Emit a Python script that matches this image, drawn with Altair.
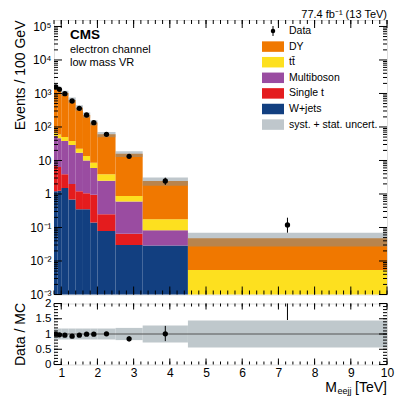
import json
import altair as alt
import numpy as np
import pandas as pd

# ---------------- data ----------------
edges = [0.8, 0.9, 1.0, 1.2, 1.4, 1.6, 1.8, 2.0, 2.5, 3.25, 4.5, 10.0]
proc_names = ["W+jets", "Single t", "Multiboson", "tt\u0304", "DY"]   # bottom -> top
proc_colors = ["#123f80", "#e41c1e", "#9a4ca1", "#fde01f", "#f07800"]
wjets = [1.2, 1.25, 1.5, 0.69, 0.35, 0.35, 0.14, 0.079, 0.030, 0.029, 0.0]
single_t = [5.6, 5.15, 2.4, 1.31, 0.85, 0.70, 0.81, 0.168, 0.035, 0.0, 0.0]
multiboson = [47.2, 39.6, 34.1, 27.0, 15.8, 8.95, 5.05, 2.25, 0.535, 0.054, 0.0]
ttbar = [13.0, 14.0, 12.0, 9.0, 5.5, 3.6, 2.6, 1.4, 0.27, 0.093, 0.0054]
dy = [1501, 1311, 975, 604, 352.5, 215.4, 126.4, 56.3, 14.93, 2.25, 0.0426]
data = [1560, 1334, 986, 597, 361, 228, 134, 60.5, 13.3, 2.44, 0.119]
data_err_lo = [40, 36, 22, 17, 13, 11, 8, 3.5, 1.35, 0.58, 0.049]
data_err_hi = [40, 36, 22, 17, 13, 11, 8, 3.5, 1.35, 0.63, 0.077]
unc_rel = [0.18, 0.18, 0.18, 0.18, 0.18, 0.18, 0.18, 0.18, 0.20, 0.28, 0.44]

y_tick_values = [1e-3, 1e-2, 1e-1, 1, 10, 1e2, 1e3, 1e4, 1e5]
y_tick_labels = ["10\u207b\u00b3", "10\u207b\u00b2", "10\u207b\u00b9", "1", "10",
                 "10\u00b2", "10\u00b3", "10\u2074", "10\u2075"]
x_tick_values = [1, 2, 3, 4, 5, 6, 7, 8, 9, 10]
r_tick_values = [0, 0.5, 1, 1.5, 2]
legend_labels = ["Data", "DY", "tt\u0304", "Multiboson", "Single t", "W+jets",
                 "syst. + stat. uncert."]

# ---------------- layout ----------------
W = 333
H1 = 274.5
H2 = 61
FONT = "Liberation Sans"
BAND = "#7f8f99"

xs = alt.Scale(domain=[0.8, 10], nice=False, zero=False)
ys = alt.Scale(type="log", domain=[1e-3, 1.56e5], nice=False)
rs = alt.Scale(domain=[0, 2], nice=False, zero=False)

# ---------------- tables ----------------
lo_e = np.array(edges[:-1])
hi_e = np.array(edges[1:])
ctr = (lo_e + hi_e) / 2
series = [wjets, single_t, multiboson, ttbar, dy]
rows = []
cum = np.zeros(len(lo_e))
for name, vals in zip(proc_names, series):
    v = np.array(vals, dtype=float)
    for i in range(len(v)):
        if v[i] > 0:
            rows.append(dict(proc=name, x0=lo_e[i], x1=hi_e[i],
                             y0=max(cum[i], 1e-5), y1=cum[i] + v[i]))
    cum = cum + v
mc = cum
stack_df = pd.DataFrame(rows)

unc = np.array(unc_rel)
band_df = pd.DataFrame(dict(x0=lo_e, x1=hi_e, y0=mc * (1 - unc), y1=mc * (1 + unc),
                            r0=1 - unc, r1=1 + unc))
d = np.array(data, dtype=float)
elo = np.array(data_err_lo, dtype=float)
ehi = np.array(data_err_hi, dtype=float)
data_df = pd.DataFrame(dict(x=ctr, y=d, ylo=d - elo, yhi=d + ehi,
                            r=d / mc, rlo=(d - elo) / mc, rhi=(d + ehi) / mc))

x_minor = [round(v, 2) for v in np.arange(0.8, 10.0001, 0.2)]
y_minor = [k * 10.0 ** e for e in range(-3, 6) for k in range(2, 10) if k * 10.0 ** e < 1.56e5]
r_minor = [round(v, 2) for v in np.arange(0, 2.0001, 0.1)]

ylabel_expr = (json.dumps(y_tick_labels, ensure_ascii=False)
               + "[round(log(datum.value)/LN10)+3]")

# ---------------- axes (same object on every layer of a panel) ----------------
y_axis_main = alt.Axis(values=y_tick_values, labelExpr=ylabel_expr, ticks=False,
                       domain=False, grid=False, title="Events / 100 GeV",
                       titleFontSize=14, titleFont=FONT, titleFontWeight="normal",
                       titleAnchor="end", titlePadding=3, titleColor="black",
                       labelFontSize=12, labelFont=FONT, labelColor="black",
                       labelPadding=3, minExtent=24, maxExtent=24)
r_axis = alt.Axis(values=r_tick_values, format="~g", ticks=False, domain=False, grid=False,
                  title="Data / MC", titleFontSize=14, titleFont=FONT,
                  titleFontWeight="normal", titlePadding=3, titleColor="black",
                  labelFontSize=11.5, labelFont=FONT, labelColor="black", labelPadding=3,
                  minExtent=24, maxExtent=24)
x_axis_r = alt.Axis(values=x_tick_values, ticks=False, domain=False, grid=False, title=None,
                    labelFontSize=12, labelFont=FONT, labelColor="black", labelPadding=3,
                    labelFlush=False)


def xticks(vals, scale, axis, H, length, top=False):
    df = pd.DataFrame({"v": vals})
    if top:
        yy, yy2 = alt.value(0), alt.value(length)
    else:
        yy, yy2 = alt.value(H), alt.value(H - length)
    return alt.Chart(df).mark_rule(color="black", strokeWidth=1).encode(
        x=alt.X("v:Q", scale=scale, axis=axis), y=yy, y2=yy2)


def yticks(vals, scale, axis, length, right=False):
    df = pd.DataFrame({"v": vals})
    if right:
        xx, xx2 = alt.value(W), alt.value(W - length)
    else:
        xx, xx2 = alt.value(0), alt.value(length)
    return alt.Chart(df).mark_rule(color="black", strokeWidth=1).encode(
        y=alt.Y("v:Q", scale=scale, axis=axis), x=xx, x2=xx2)


def text(t, x, y, size, align="left", weight="normal", baseline="alphabetic"):
    return alt.Chart(pd.DataFrame({"t": [t]})).mark_text(
        align=align, baseline=baseline, fontSize=size, fontWeight=weight,
        font=FONT, color="black").encode(x=alt.value(x), y=alt.value(y), text="t:N")


# ---------------- main panel ----------------
stack = alt.Chart(stack_df).mark_rect(clip=True).encode(
    x=alt.X("x0:Q", scale=xs, axis=None), x2="x1:Q",
    y=alt.Y("y0:Q", scale=ys, axis=y_axis_main), y2="y1:Q",
    color=alt.Color("proc:N", scale=alt.Scale(domain=proc_names, range=proc_colors),
                    legend=None))

band = alt.Chart(band_df).mark_rect(clip=True, color=BAND, opacity=0.5).encode(
    x=alt.X("x0:Q", scale=xs, axis=None), x2="x1:Q",
    y=alt.Y("y0:Q", scale=ys, axis=y_axis_main), y2="y1:Q")

derr = alt.Chart(data_df).mark_rule(color="black", strokeWidth=1, clip=True).encode(
    x=alt.X("x:Q", scale=xs, axis=None),
    y=alt.Y("ylo:Q", scale=ys, axis=y_axis_main), y2="yhi:Q")
dpts = alt.Chart(data_df).mark_circle(color="black", size=28, opacity=1, clip=True).encode(
    x=alt.X("x:Q", scale=xs, axis=None),
    y=alt.Y("y:Q", scale=ys, axis=y_axis_main))

# legend
leg_y0, leg_dy, box_h = 11, 15.6, 10.5
leg_df = pd.DataFrame(dict(label=legend_labels,
                           ym=[leg_y0 + i * leg_dy for i in range(len(legend_labels))]))
leg_df["yt"] = leg_df["ym"] - box_h / 2
leg_df["yb"] = leg_df["ym"] + box_h / 2
leg_df["col"] = ["none", proc_colors[4], proc_colors[3], proc_colors[2],
                 proc_colors[1], proc_colors[0], BAND]
leg_df["op"] = [0, 1, 1, 1, 1, 1, 0.5]
box_df = leg_df.iloc[1:]
leg_boxes = alt.Chart(box_df).mark_rect().encode(
    x=alt.value(208), x2=alt.value(230),
    y=alt.Y("yt:Q", scale=None, axis=None), y2="yb:Q",
    color=alt.Color("col:N", scale=None), opacity=alt.Opacity("op:Q", scale=None))
leg_text = alt.Chart(leg_df).mark_text(align="left", baseline="middle", fontSize=10.5,
                                       font=FONT, color="black").encode(
    x=alt.value(235), y=alt.Y("ym:Q", scale=None, axis=None), text="label:N")
leg_mark_df = leg_df.iloc[:1]
leg_pt = alt.Chart(leg_mark_df).mark_circle(color="black", size=20, opacity=1).encode(
    x=alt.value(219), y=alt.Y("ym:Q", scale=None, axis=None))
leg_bar = alt.Chart(leg_mark_df.assign(a=leg_mark_df.ym - 5, b=leg_mark_df.ym + 5)).mark_rule(
    color="black").encode(x=alt.value(219), y=alt.Y("a:Q", scale=None, axis=None), y2="b:Q")
legend = alt.layer(leg_boxes, leg_text, leg_pt, leg_bar)

main_data = alt.layer(
    stack, band, derr, dpts,
    xticks(x_tick_values, xs, None, H1, 8), xticks(x_minor, xs, None, H1, 4),
    xticks(x_tick_values, xs, None, H1, 8, top=True), xticks(x_minor, xs, None, H1, 4, top=True),
    yticks(y_tick_values, ys, y_axis_main, 8), yticks(y_minor, ys, y_axis_main, 4),
    yticks(y_tick_values, ys, y_axis_main, 8, right=True),
    yticks(y_minor, ys, y_axis_main, 4, right=True),
)
main = alt.layer(
    main_data,
    alt.layer(
        legend,
        text("CMS", 16, 19, 13.5, weight="bold"),
        text("electron channel", 16, 33, 11),
        text("low mass VR", 16, 45.5, 11),
        text("77.4 fb\u207b\u00b9 (13 TeV)", W, -2, 11, align="right"),
    ),
).resolve_scale(y="independent").properties(width=W, height=H1)

# ---------------- ratio panel ----------------
rband = alt.Chart(band_df).mark_rect(color="#bfc8cc").encode(
    x=alt.X("x0:Q", scale=xs, axis=x_axis_r), x2="x1:Q",
    y=alt.Y("r0:Q", scale=rs, axis=r_axis), y2="r1:Q")
rline = alt.Chart(pd.DataFrame({"v": [1.0]})).mark_rule(color="#555555", strokeWidth=1).encode(
    y=alt.Y("v:Q", scale=rs, axis=r_axis))
rerr = alt.Chart(data_df).mark_rule(color="black", strokeWidth=1, clip=True).encode(
    x=alt.X("x:Q", scale=xs, axis=x_axis_r),
    y=alt.Y("rlo:Q", scale=rs, axis=r_axis), y2="rhi:Q")
rpts = alt.Chart(data_df).mark_circle(color="black", size=28, opacity=1, clip=True).encode(
    x=alt.X("x:Q", scale=xs, axis=x_axis_r),
    y=alt.Y("r:Q", scale=rs, axis=r_axis))

ratio = alt.layer(
    rband, rline, rerr, rpts,
    xticks(x_tick_values, xs, x_axis_r, H2, 6), xticks(x_minor, xs, x_axis_r, H2, 3),
    xticks(x_tick_values, xs, x_axis_r, H2, 6, top=True),
    xticks(x_minor, xs, x_axis_r, H2, 3, top=True),
    yticks(r_tick_values, rs, r_axis, 8), yticks(r_minor, rs, r_axis, 4),
    yticks(r_tick_values, rs, r_axis, 8, right=True), yticks(r_minor, rs, r_axis, 4, right=True),
    text("[TeV]", W, 88, 14, align="right"),
    text("eejj", W - 35.5, 90.5, 9, align="right"),
    text("M", W - 50, 88, 14, align="right"),
).properties(width=W, height=H2)

chart = alt.vconcat(main, ratio, spacing=8.5, bounds="flush").properties(
    padding={"left": 4, "top": 0, "right": 2, "bottom": 0}
).configure_view(stroke="black", strokeWidth=1).configure(font=FONT)

chart.save("out.html", embed_options={"renderer": "svg", "actions": False})
